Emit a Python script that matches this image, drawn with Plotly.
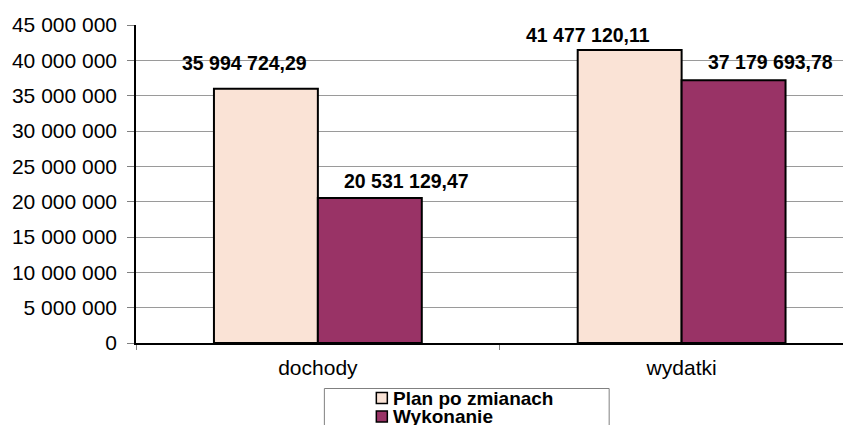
import plotly.graph_objects as go

categories = ["dochody", "wydatki"]
series_names = ["Plan po zmianach", "Wykonanie"]
plan_values = [35994724.29, 41477120.11]
wykonanie_values = [20531129.47, 37179693.78]
value_labels_plan = ["35 994 724,29", "41 477 120,11"]
value_labels_wyk = ["20 531 129,47", "37 179 693,78"]

OFF = 8  # page body margin
W, H = 851 - OFF, 425 - OFF
L, R, T = 135.5 - OFF, 0, 25 - OFF
B = H - (343 - OFF)
PW, PH = W - L - R, H - T - B
FONT = "Liberation Sans, Arial, sans-serif"
colors = ["#FAE3D6", "#993366"]

def px(x):  # window pixel -> paper
    return (x - OFF - L) / PW

def py(y):
    return (H - B - (y - OFF)) / PH

fig = go.Figure()
for name, vals, col in zip(series_names, [plan_values, wykonanie_values], colors):
    fig.add_trace(go.Bar(x=categories, y=vals, name=name,
                         marker=dict(color=col, line=dict(color="black", width=2)),
                         showlegend=False))

bw = (1 - 0.4286) / 2
shifts_plan = [(-21, 26), (-41.5, 15)]
shifts_wyk = [(37, 17), (36.5, 18)]
ann = []
for i in range(len(categories)):
    for vals, labs, off, sh in [(plan_values, value_labels_plan, -bw / 2, shifts_plan),
                                (wykonanie_values, value_labels_wyk, bw / 2, shifts_wyk)]:
        ann.append(dict(x=i + off, y=vals[i], xref="x", yref="y", text="<b>%s</b>" % labs[i],
                        showarrow=False, xanchor="center", yanchor="middle",
                        xshift=sh[i][0], yshift=sh[i][1],
                        font=dict(family=FONT, size=19.5, color="black")))

shapes = [dict(type="rect", xref="paper", yref="paper", x0=px(324), x1=px(609), y0=py(445), y1=py(388.5),
               line=dict(color="#808080", width=1), fillcolor="white", layer="above")]
leg_y = [398, 416.5]
for name, col, yy in zip(series_names, colors, leg_y):
    shapes.append(dict(type="rect", xref="paper", yref="paper", x0=px(376), x1=px(387), y0=py(yy + 5.5), y1=py(yy - 5.5),
                       line=dict(color="black", width=1.5), fillcolor=col, layer="above"))
    ann.append(dict(x=px(391), y=py(yy), xref="paper", yref="paper", text="<b>%s</b>" % name,
                    showarrow=False, xanchor="left", yanchor="middle",
                    font=dict(family=FONT, size=19, color="black")))

fig.update_layout(
    width=W, height=H,
    margin=dict(l=L, r=R, t=T, b=B, autoexpand=False, pad=0),
    paper_bgcolor="white", plot_bgcolor="white",
    barmode="group", bargap=0.4286, bargroupgap=0,
    separators=", ",
    font=dict(family=FONT, size=21, color="black"),
    annotations=ann, shapes=shapes,
    showlegend=False,
)
fig.update_xaxes(type="category", range=[-0.5, -0.5 + PW / 364.0], tickson="boundaries",
                 ticks="outside", ticklen=5, tickcolor="#808080", tickwidth=1,
                 showline=True, linecolor="black", linewidth=1.5, showgrid=False,
                 tickfont=dict(family=FONT, size=21, color="black"), ticklabelstandoff=5)
fig.update_yaxes(range=[0, 45000000], dtick=5000000, tick0=0, tickformat=",d",
                 ticks="outside", ticklen=7, tickcolor="#808080", tickwidth=1,
                 showline=True, linecolor="black", linewidth=1.5,
                 showgrid=True, gridcolor="#9a9a9a", gridwidth=1, zeroline=False,
                 tickfont=dict(family=FONT, size=21, color="black"), ticklabelstandoff=6)
fig.write_html("out.html")
